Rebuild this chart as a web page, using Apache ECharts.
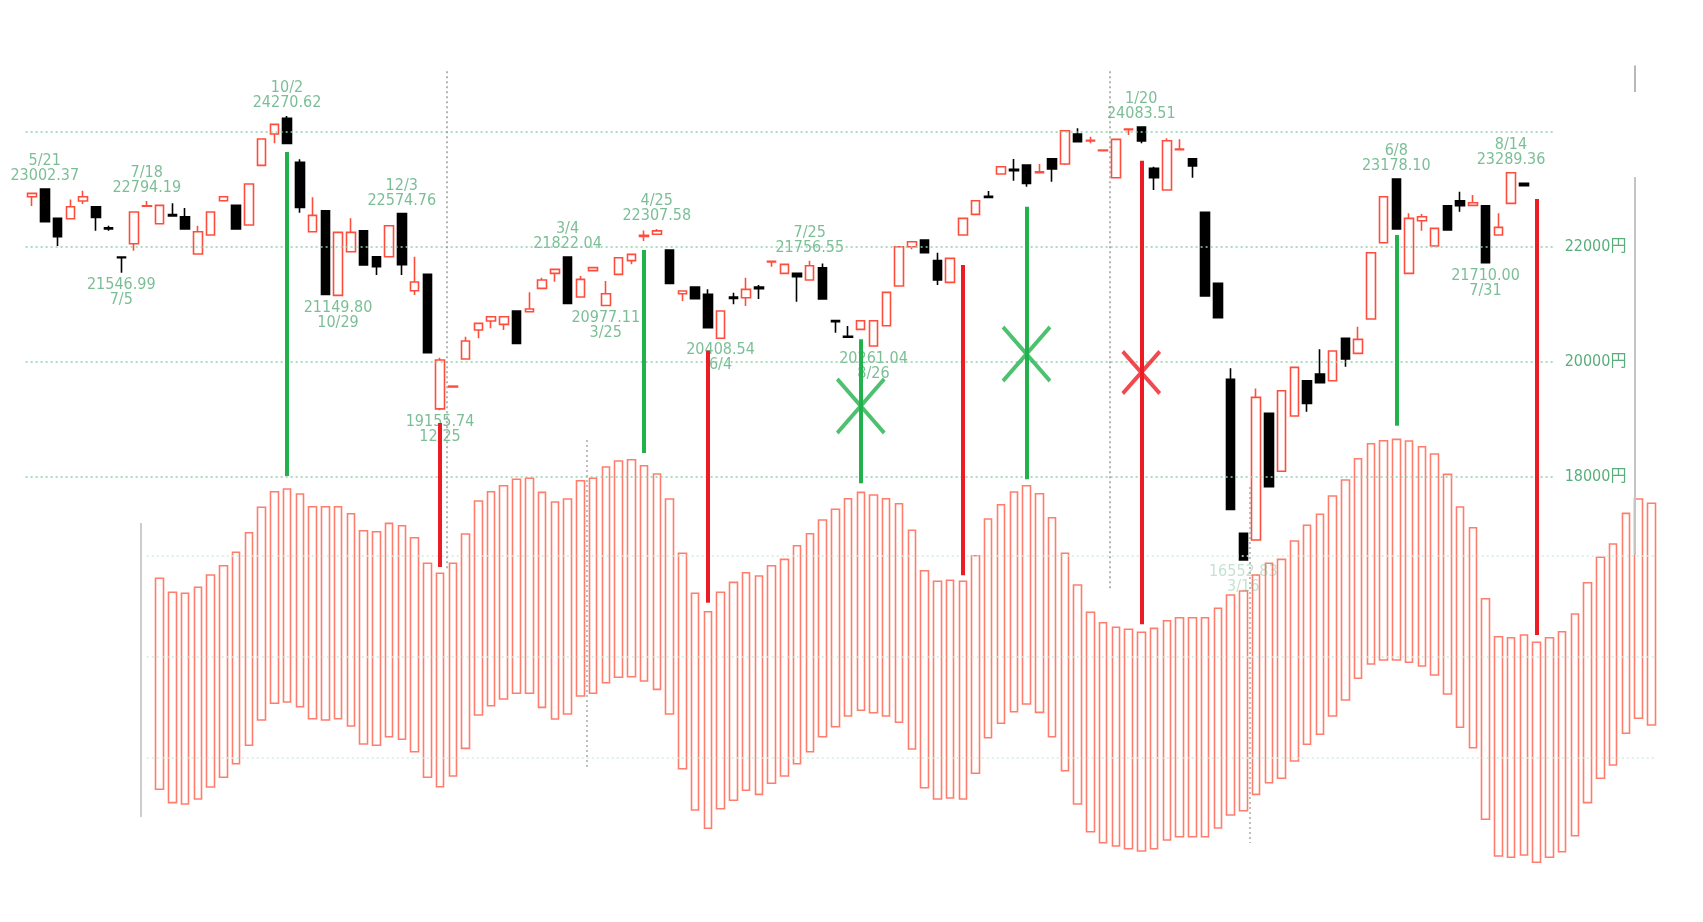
<!DOCTYPE html>
<html><head><meta charset="utf-8">
<script src="https://cdn.jsdelivr.net/npm/echarts/dist/echarts.min.js"></script>
<style>html,body{margin:0;padding:0;background:#fff}#c{width:1703px;height:922px}</style>
</head><body><div id="c"></div>
<script>
// ---- weekly candles (index 0 = week of 5/14/2018) ----
const candleOpen = [22870,23002,22493,22487,22794,22696,22330,21820,22052,22705,
22400,22557,22522,21872,22203,22800,22719,22377,23414,23959,
24232,23467,22261,22626,21153,21913,22278,21826,21826,22575,
21235,21520,19180,19560,20047,20551,20707,20649,20881,20870,
21275,21536,21822,21125,21584,20977,21519,21757,22180,22217,
21943,21183,21299,21171,20409,21125,21113,21300,21735,21536,
21536,21420,21635,20714,20440,20562,20273,20626,21316,22000,
22116,21757,21380,22203,22562,22875,23264,23345,23420,23287,
23530,23438,23959,23838,23670,23200,24035,24080,23362,22986,
23687,23530,22597,21362,19693,17015,16899,19101,18096,19055,
19670,19786,19670,20406,20145,20742,22070,23178,21536,22452,
22012,22713,22800,22719,22713,22203,22754,23101];
const candleClose = [22928,22435,22174,22696,22870,22510,22307,21809,22603,22713,
22719,22533,22307,22261,22603,22870,22307,23090,23872,24128,
23797,22684,22545,21171,22249,22249,21681,21652,22365,21687,
21386,20157,20030,19575,20360,20667,20783,20783,20319,20916,
21420,21606,21014,21432,21636,21183,21809,21867,22200,22275,
21363,21229,21096,20591,20881,21102,21258,21270,21745,21693,
21478,21670,21090,20696,20425,20713,20713,21206,22000,22087,
21896,21420,21797,22493,22800,22858,23391,23322,23101,23304,
23351,24017,23826,23849,23680,23867,24046,23838,23200,23843,
23698,23403,21142,20765,17432,16553,19380,17826,19496,19902,
19275,19635,20186,20046,20388,21896,22870,22307,22493,22522,
22319,22290,22713,22765,21722,22336,23287,23061];
const candleLow = [22707,22430,22012,22487,22742,22278,22278,21547,21930,22700,
22400,22522,22307,21872,22203,22800,22307,22377,23414,23797,
23797,22591,22261,21171,21150,21913,21681,21507,21826,21507,
21160,20157,19156,19560,20047,20406,20580,20551,20319,20870,
21275,21391,21014,21125,21584,20977,21519,21693,22098,22217,
21363,21055,21096,20591,20409,21000,20968,21090,21650,21536,
21043,21420,21090,20505,20425,20562,20261,20626,21316,21954,
21896,21333,21380,22203,22562,22858,23264,23148,23043,23287,
23130,23420,23826,23797,23670,23200,23942,23797,22986,22986,
23687,23200,21142,20765,17432,16553,16899,17826,18096,19055,
19130,19635,19670,19913,20145,20742,22070,22307,21536,22278,
22012,22290,22609,22719,21710,22203,22754,23061];
const candleHigh = [22935,23002,22493,22823,22974,22696,22365,21825,22603,22794,
22719,22754,22672,22365,22603,22870,22719,23090,23872,24128,
24271,23519,22858,22626,22249,22493,22278,21826,22365,22575,
21826,21520,20070,19575,20435,20667,20783,20783,20881,21206,
21460,21606,21822,21490,21636,21404,21809,21867,22280,22308,
21943,21229,21299,21258,20881,21200,21461,21333,21745,21693,
21536,21757,21710,20714,20620,20713,20713,21206,22000,22087,
22116,21896,21797,22493,22800,22968,23391,23525,23420,23438,
23530,24017,24058,23913,23680,23867,24046,24084,23391,23884,
23867,23530,22597,21362,19884,17015,19536,19101,19496,19902,
19670,20215,20186,20406,20609,21896,22870,23178,22580,22568,
22319,22713,22957,22899,22713,22580,23289,23101];

// ---- hollow cycle bars (start at week index 10) ----
const cycleStart = 10;
const cycleTop = [16233,15990,15972,16077,16290,16452,16685,17026,17468,17739,
17786,17699,17478,17478,17478,17356,17061,17043,17189,17148,
16939,16494,16320,16494,17003,17577,17739,17843,17955,17972,
17728,17560,17612,17930,17972,18168,18273,18295,18191,18047,
17612,16668,15972,15652,15990,16163,16330,16273,16452,16563,
16800,17008,17247,17433,17617,17728,17682,17617,17530,17068,
16365,16181,16198,16181,16626,17264,17513,17734,17843,17704,
17287,16668,16116,15642,15461,15381,15346,15294,15363,15495,
15548,15548,15548,15711,15942,16012,16290,16494,16563,16882,
17155,17346,17664,17942,18313,18574,18626,18650,18621,18521,
18395,18041,17473,17113,15878,15217,15200,15247,15120,15200,
15304,15612,16156,16598,16829,17363,17612,17537];
const cycleBottom = [12564,12331,12308,12395,12604,12772,13009,13329,13769,14059,
14082,14000,13791,13769,13791,13664,13351,13329,13478,13433,
13217,12772,12609,12795,13276,13855,14017,14134,14233,14233,
13989,13786,13873,14186,14233,14417,14511,14522,14447,14302,
13873,12922,12203,11885,12226,12372,12546,12476,12668,12795,
13009,13217,13478,13652,13838,13937,13895,13838,13729,13264,
12591,12395,12412,12395,12842,13461,13711,13913,14047,13902,
13478,12887,12308,11826,11635,11577,11530,11490,11530,11682,
11739,11739,11739,11890,12116,12191,12476,12678,12755,13056,
13346,13520,13838,14116,14494,14742,14812,14812,14772,14708,
14551,14221,13642,13287,12042,11403,11381,11421,11294,11381,
11478,11756,12331,12755,12986,13537,13798,13682];

// ---- annotated highs / lows ----
const peakIndex = [1,9,20,29,42,49,61,87,107,116];
const peakDate  = ['5/21','7/18','10/2','12/3','3/4','4/25','7/25','1/20','6/8','8/14'];
const peakValue = [23002.37,22794.19,24270.62,22574.76,21822.04,22307.58,21756.55,24083.51,23178.10,23289.36];
const troughIndex = [7,24,32,45,54,66,95,114];
const troughDate  = ['7/5','10/29','12/25','3/25','6/4','8/26','3/16','7/31'];
const troughValue = [21546.99,21149.80,19155.74,20977.11,20408.54,20261.04,16552.83,21710.00];

// ---- signal lines [week index, from, to] ----
const buySignals  = [[20,23647,18012],[48,21943,18412],[65,20390,17885],[78,22696,17955],[107,22203,18887]];
const sellSignals = [[32,18934,16430],[53,20191,15809],[73,21682,16286],[87,23496,15434],[118,22830,15247]];
const buyCrosses  = [[65,19230],[78,20134]];
const sellCrosses = [[87,19812]];

// ---- axis ----
const priceLabels = [18000,20000,22000];
const priceGrid = [18000,20000,22000,24000];
const cycleGrid = [16621,14865,13108];
const yearBreaks = [32.5,84.5];
const cycleYearBreaks = [43.5,95.5];

const candleCats = Array.from({length:120},(_,i)=>String(i));
const cycleCats = Array.from({length:128},(_,i)=>String(i));

const TXT = '#5aae7c';
const FONT = "'DejaVu Sans Condensed','DejaVu Sans','Noto Sans CJK JP',sans-serif";
const GREEN = '#22b14c', RED = '#ed1c24';

const candleData = candleOpen.map((o,i)=>[o,candleClose[i],candleLow[i],candleHigh[i]]);
const cycleData = cycleCats.map((c,i)=>{
  const k = i - cycleStart;
  if (k < 0 || k >= cycleTop.length) return '-';
  return [cycleBottom[k], cycleTop[k], cycleBottom[k], cycleTop[k]];
});

const dotted = (color,w)=>({color:color,width:w,type:[2,3]});
const seg = (x1,y1,x2,y2,style)=>[{coord:[x1,y1],lineStyle:style},{coord:[x2,y2]}];

const decorLines = [];
priceGrid.forEach(v=>decorLines.push(seg(-0.5,v,119.5,v,dotted('#93cfac',1.5))));
cycleGrid.forEach(v=>decorLines.push(seg(9,v,127.3,v,dotted('#d3ebdd',1.5))));
decorLines.push(seg(yearBreaks[0],25050,yearBreaks[0],16378,dotted('#9a9a9a',1.5)));
decorLines.push(seg(yearBreaks[1],25050,yearBreaks[1],16030,dotted('#9a9a9a',1.5)));
decorLines.push(seg(cycleYearBreaks[0],18638,cycleYearBreaks[0],12951,dotted('#a8a8a8',1.5)));
decorLines.push(seg(cycleYearBreaks[1],17822,cycleYearBreaks[1],11630,dotted('#a8a8a8',1.5)));
decorLines.push(seg(8.55,17195,8.55,12082,{color:'#cccccc',width:2,type:'solid'}));
decorLines.push(seg(125.7,25150,125.7,24690,{color:'#b8b8b8',width:2,type:'solid'}));
decorLines.push(seg(125.7,23212,125.7,16638,{color:'#c4c4c4',width:2,type:'solid'}));

const signalLines = [];
buySignals.forEach(s=>signalLines.push(seg(s[0],s[1],s[0],s[2],{color:GREEN,width:4,type:'solid'})));
sellSignals.forEach(s=>signalLines.push(seg(s[0],s[1],s[0],s[2],{color:RED,width:4,type:'solid'})));

const chart = echarts.init(document.getElementById('c'));
chart.setOption({
  animation:false,
  backgroundColor:'#ffffff',
  grid:[
    {left:25.625, top:62.7, width:1530, height:816.5, outerBoundsMode:'none'},
    {left:25.625, top:62.7, width:1632, height:816.5, outerBoundsMode:'none'}
  ],
  xAxis:[
    {type:'category', gridIndex:0, data:candleCats, boundaryGap:true, show:false},
    {type:'category', gridIndex:1, data:cycleCats, boundaryGap:true, show:false},
    {type:'value', gridIndex:1, min:-0.5, max:127.5, show:false}
  ],
  yAxis:[
    {type:'value', gridIndex:0, position:'right', min:11000, max:25200, interval:1000,
     splitLine:{show:false}, axisLine:{show:false}, axisTick:{show:false},
     axisLabel:{margin:9, color:TXT, fontSize:16, fontFamily:FONT,
       formatter:v=>priceLabels.indexOf(v)>=0 ? v+'円' : ''}},
    {type:'value', gridIndex:1, min:11000, max:25200, show:false}
  ],
  series:[
    {type:'line', xAxisIndex:2, yAxisIndex:1, data:[[0,11000]], showSymbol:false, lineStyle:{opacity:0}, silent:true, z:1,
     markLine:{silent:true, symbol:['none','none'], label:{show:false}, data:decorLines, animation:false}},
    {type:'candlestick', name:'cycle', xAxisIndex:1, yAxisIndex:1, data:cycleData, barWidth:8, z:2,
     itemStyle:{color:'rgba(255,255,255,0)', color0:'rgba(255,255,255,0)', borderColor:'#ff7d6c', borderColor0:'#ff7d6c', borderWidth:1.6}},
    {type:'candlestick', name:'price', xAxisIndex:0, yAxisIndex:0, data:candleData, barWidth:9, z:3,
     itemStyle:{color:'#ffffff', color0:'#000000', borderColor:'#ff4d3d', borderColor0:'#000000', borderWidth:1.6}},
    {type:'scatter', xAxisIndex:0, yAxisIndex:0, symbolSize:1, itemStyle:{color:'rgba(0,0,0,0)'}, z:4, silent:true,
     data:peakIndex.map((x,k)=>[x,peakValue[k]]),
     label:{show:true, position:'top', distance:5, color:TXT, fontSize:16, lineHeight:15, fontFamily:FONT, align:'center',
       formatter:p=>peakDate[p.dataIndex]+'\n'+peakValue[p.dataIndex].toFixed(2)}},
    {type:'scatter', xAxisIndex:0, yAxisIndex:0, symbolSize:1, itemStyle:{color:'rgba(0,0,0,0)'}, z:4, silent:true,
     data:troughIndex.map((x,k)=>({value:[x,troughValue[k]], label: troughDate[k]==='3/16' ? {color:'rgba(90,174,124,0.45)'} : {}})),
     label:{show:true, position:'bottom', distance:4, color:TXT, fontSize:16, lineHeight:15, fontFamily:FONT, align:'center',
       formatter:p=>troughValue[p.dataIndex].toFixed(2)+'\n'+troughDate[p.dataIndex]}},
    {type:'line', xAxisIndex:2, yAxisIndex:1, data:[[0,11000]], showSymbol:false, lineStyle:{opacity:0}, silent:true, z:10,
     markLine:{silent:true, symbol:['none','none'], label:{show:false}, data:signalLines, animation:false}},
    {type:'scatter', xAxisIndex:0, yAxisIndex:0, z:11, silent:true,
     symbol:'path://M0,0L10,10M10,0L0,10', symbolSize:[47,54],
     itemStyle:{color:'none', borderColor:GREEN, borderWidth:4},
     data:buyCrosses},
    {type:'scatter', xAxisIndex:0, yAxisIndex:0, z:11, silent:true,
     symbol:'path://M0,0L10,10M10,0L0,10', symbolSize:[37,42],
     itemStyle:{color:'none', borderColor:RED, borderWidth:4},
     data:sellCrosses}
  ]
});
</script>
</body></html>
